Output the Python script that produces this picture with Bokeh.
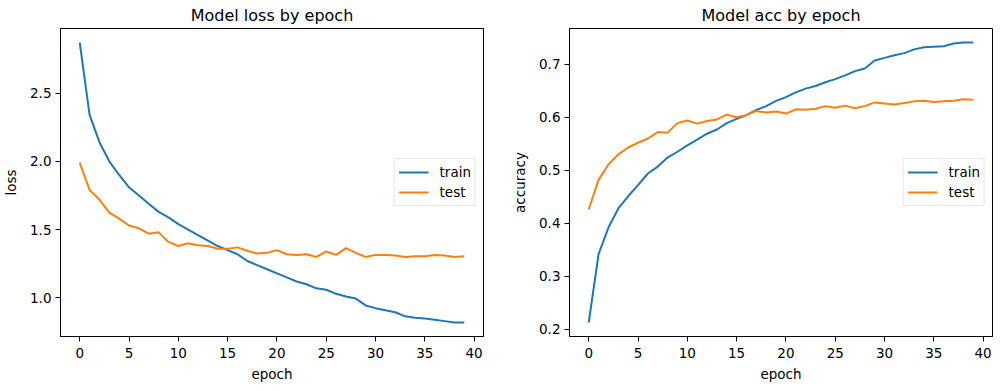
from bokeh.plotting import figure
from bokeh.layouts import row
from bokeh.models import FixedTicker, Range1d, Legend, LegendItem, PrintfTickFormatter
from bokeh.embed import file_html
from bokeh.resources import INLINE

epochs = list(range(40))
train_loss = [2.87, 2.34, 2.14, 2.00, 1.90, 1.81, 1.75, 1.69, 1.63, 1.59,
              1.54, 1.50, 1.46, 1.42, 1.38, 1.35, 1.32, 1.27, 1.24, 1.21,
              1.18, 1.15, 1.12, 1.10, 1.07, 1.06, 1.03, 1.01, 0.995, 0.945,
              0.925, 0.91, 0.895, 0.865, 0.855, 0.85, 0.84, 0.83, 0.82, 0.82]
test_loss = [1.99, 1.79, 1.72, 1.625, 1.58, 1.53, 1.51, 1.47, 1.48, 1.41,
             1.38, 1.40, 1.385, 1.38, 1.36, 1.36, 1.37, 1.345, 1.325, 1.33,
             1.35, 1.32, 1.315, 1.32, 1.30, 1.34, 1.315, 1.365, 1.33, 1.30,
             1.315, 1.315, 1.31, 1.30, 1.305, 1.305, 1.315, 1.31, 1.30, 1.305]
train_acc = [0.213, 0.342, 0.392, 0.428, 0.451, 0.472, 0.494, 0.507, 0.524, 0.535,
             0.547, 0.558, 0.569, 0.577, 0.589, 0.597, 0.604, 0.614, 0.621, 0.631,
             0.638, 0.647, 0.654, 0.659, 0.666, 0.672, 0.679, 0.687, 0.692, 0.707,
             0.712, 0.717, 0.721, 0.728, 0.732, 0.733, 0.734, 0.739, 0.741, 0.741]
test_acc = [0.426, 0.482, 0.511, 0.530, 0.543, 0.552, 0.560, 0.572, 0.571, 0.589,
            0.594, 0.588, 0.593, 0.596, 0.605, 0.600, 0.604, 0.612, 0.609, 0.611,
            0.607, 0.615, 0.614, 0.616, 0.621, 0.618, 0.622, 0.617, 0.621, 0.628,
            0.626, 0.624, 0.627, 0.630, 0.631, 0.629, 0.630, 0.631, 0.634, 0.633]

x_ticks = [0, 5, 10, 15, 20, 25, 30, 35, 40]
loss_ticks = [1.0, 1.5, 2.0, 2.5]
acc_ticks = [0.2, 0.3, 0.4, 0.5, 0.6, 0.7]

BLUE = "#1f77b4"
ORANGE = "#ff7f0e"
FONT = "DejaVu Sans"


def padded(lo, hi, frac=0.05):
    span = hi - lo
    return lo - span * frac, hi + span * frac


def make_plot(title, ylabel, train, test, yticks, bl, br):
    x0, x1 = padded(min(epochs), max(epochs))
    y0, y1 = padded(min(train + test), max(train + test))
    p = figure(frame_width=423, frame_height=308, output_backend="svg", toolbar_location=None,
               x_range=Range1d(x0, x1), y_range=Range1d(y0, y1),
               min_border_left=bl, min_border_right=br, min_border_top=27,
               min_border_bottom=44, title=title)
    p.title.text_font = FONT
    p.title.text_font_size = "16px"
    p.title.text_font_style = "normal"
    p.title.align = "center"
    p.title.text_color = "black"
    p.title.standoff = 7
    r1 = p.line(epochs, train, line_color=BLUE, line_width=2)
    r2 = p.line(epochs, test, line_color=ORANGE, line_width=2)
    p.xgrid.visible = False
    p.ygrid.visible = False
    p.outline_line_color = "black"
    p.outline_line_alpha = 1
    p.outline_line_width = 1
    p.xaxis.ticker = FixedTicker(ticks=x_ticks)
    p.yaxis.ticker = FixedTicker(ticks=yticks)
    p.yaxis.formatter = PrintfTickFormatter(format="%.1f")
    p.xaxis.axis_label = "epoch"
    p.yaxis.axis_label = ylabel
    for ax in (p.xaxis, p.yaxis):
        ax.axis_label_text_font = FONT
        ax.axis_label_text_font_size = "13.5px"
        ax.axis_label_text_font_style = "normal"
        ax.axis_label_text_color = "black"
        ax.major_label_text_font = FONT
        ax.major_label_text_font_size = "13.5px"
        ax.major_label_text_color = "black"
        ax.major_tick_out = 5
        ax.major_tick_in = 0
        ax.minor_tick_out = 0
        ax.minor_tick_in = 0
        ax.major_tick_line_color = "black"
        ax.axis_line_color = "black"
    p.xaxis.major_label_standoff = 6
    p.xaxis.axis_label_standoff = 5
    p.yaxis.major_label_standoff = 4
    p.yaxis.axis_label_standoff = 8
    legend = Legend(items=[LegendItem(label="train", renderers=[r1]),
                           LegendItem(label="test", renderers=[r2])],
                    location="center_right")
    legend.margin = 7
    legend.padding = 4
    legend.spacing = 2
    legend.glyph_width = 30
    legend.glyph_height = 18
    legend.label_height = 18
    legend.label_width = 10
    legend.label_standoff = 11
    legend.label_text_font = FONT
    legend.label_text_font_size = "13.5px"
    legend.label_text_color = "black"
    legend.border_line_color = "#cccccc"
    legend.background_fill_alpha = 0.8
    p.add_layout(legend)
    return p


p1 = make_plot("Model loss by epoch", "loss", train_loss, test_loss, loss_ticks, 59, 26)
p2 = make_plot("Model acc by epoch", "accuracy", train_acc, test_acc, acc_ticks, 55, 10)

layout = row(p1, p2)
open("out.html", "w").write(file_html(layout, INLINE))
